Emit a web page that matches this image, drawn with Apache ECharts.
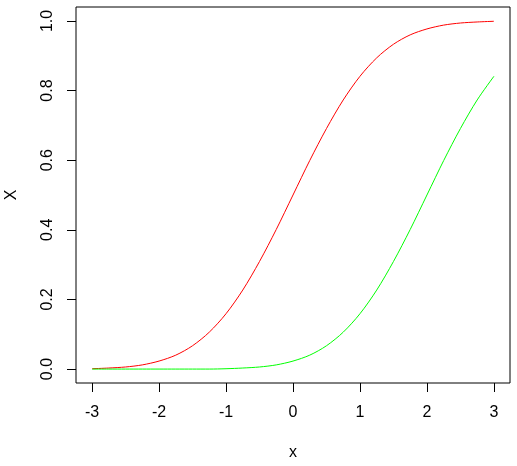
<!DOCTYPE html>
<html><head><meta charset="utf-8">
<script src="https://cdn.jsdelivr.net/npm/echarts@6/dist/echarts.min.js"></script>
<style>html,body{margin:0;padding:0;background:#fff}#c{width:517px;height:466px}</style>
</head><body><div id="c"></div>
<script>
var xs = [-3,-2.75,-2.5,-2.25,-2,-1.75,-1.5,-1.25,-1,-0.75,-0.5,-0.25,0,0.25,0.5,0.75,1,1.25,1.5,1.75,2,2.25,2.5,2.75,3];
var redY = [0.001,0.003,0.006,0.012,0.023,0.040,0.067,0.106,0.159,0.227,0.309,0.401,0.5,0.599,0.691,0.773,0.841,0.894,0.933,0.960,0.977,0.988,0.994,0.997,0.999];
var greenY = [0.000,0.000,0.000,0.000,0.000,0.000,0.000,0.000,0.001,0.003,0.006,0.012,0.023,0.040,0.067,0.106,0.159,0.227,0.309,0.401,0.5,0.599,0.691,0.773,0.841];
var xTicks = [-3,-2,-1,0,1,2,3];
var yTicks = [0,0.2,0.4,0.6,0.8,1.0];

var font = 'Liberation Sans, Arial, sans-serif';
var chart = echarts.init(document.getElementById('c'), null, {renderer:'canvas'});
chart.setOption({
  animation:false,
  grid:{left:76,right:7,top:7,bottom:83,show:true,borderColor:'#000',borderWidth:1,backgroundColor:'transparent',containLabel:false,outerBoundsMode:'none'},
  xAxis:{type:'value',min:-3.24,max:3.24,position:'bottom',
    name:'x',nameLocation:'middle',nameGap:62,nameTextStyle:{fontFamily:font,fontSize:16,color:'#000'},
    axisLine:{show:false,onZero:false},splitLine:{show:false},
    axisTick:{show:true,length:9,customValues:xTicks,lineStyle:{color:'#000'}},
    axisLabel:{customValues:xTicks,fontFamily:font,fontSize:16,color:'#000',margin:22,formatter:function(v){return String(v);}}
  },
  yAxis:{type:'value',min:-0.04,max:1.04,position:'left',
    name:'X',nameLocation:'middle',nameGap:56,nameRotate:90,nameTextStyle:{fontFamily:font,fontSize:16,color:'#000'},
    axisLine:{show:false,onZero:false},splitLine:{show:false},
    axisTick:{show:true,length:9,customValues:yTicks,lineStyle:{color:'#000'}},
    axisLabel:{customValues:yTicks,rotate:90,fontFamily:font,fontSize:16,color:'#000',margin:20,formatter:function(v){return v.toFixed(1);}}
  },
  series:[
    {type:'line',data:xs.map(function(x,i){return [x,redY[i]];}),smooth:0.3,showSymbol:false,lineStyle:{color:'#FF0000',width:1}},
    {type:'line',data:xs.map(function(x,i){return [x,greenY[i]];}),smooth:0.3,showSymbol:false,lineStyle:{color:'#00FF00',width:1}}
  ]
});
</script></body></html>
